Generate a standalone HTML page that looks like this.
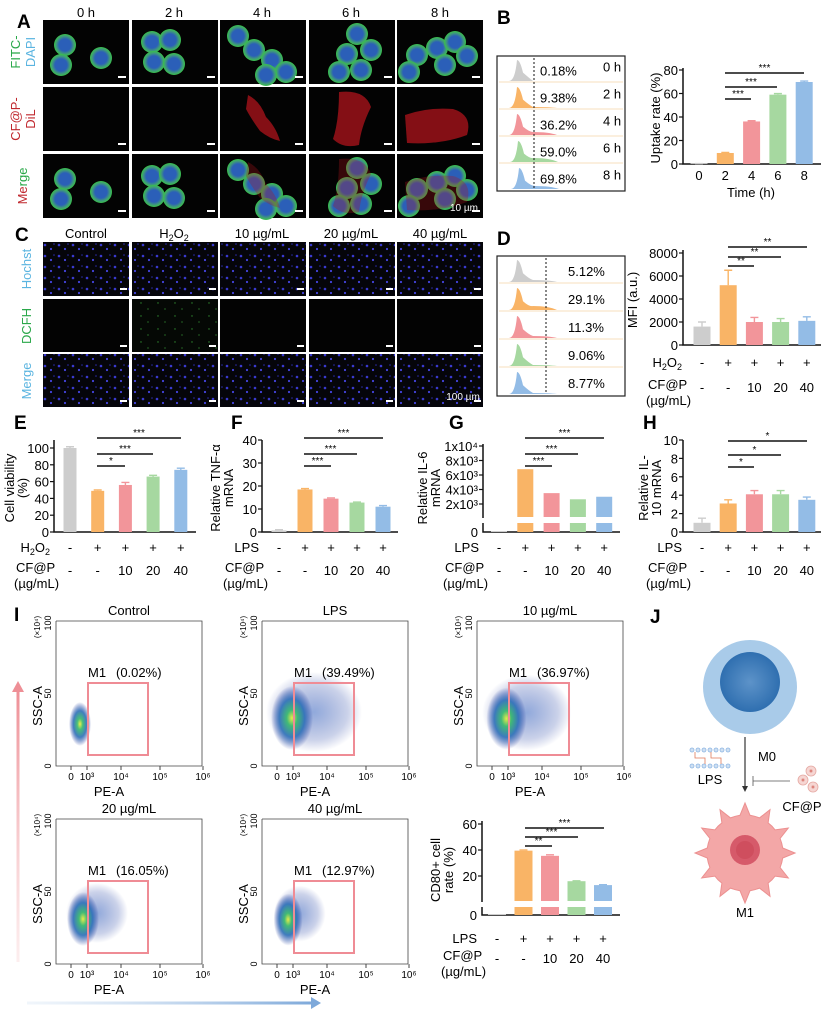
<!DOCTYPE html>
<html><head><meta charset="utf-8"><style>
body{margin:0;background:#fff}
svg{display:block;font-family:"Liberation Sans",Arial,sans-serif}
</style></head><body>
<svg id="fig" width="825" height="1013" viewBox="0 0 825 1013" xmlns="http://www.w3.org/2000/svg">
<defs>
<pattern id="nuc" width="14" height="11" patternUnits="userSpaceOnUse">
<rect width="14" height="11" fill="#05050a"/>
<circle cx="3" cy="3" r="1.3" fill="#3a3ad0"/><circle cx="9" cy="7" r="1.1" fill="#4444e0"/><circle cx="12" cy="2" r="0.8" fill="#2a2aa8"/>
</pattern>
<pattern id="ros" width="17" height="13" patternUnits="userSpaceOnUse">
<rect width="17" height="13" fill="#050805"/><circle cx="5" cy="4" r="0.7" fill="#2f8a2f"/><circle cx="12" cy="10" r="0.6" fill="#3aa03a"/>
</pattern>
<radialGradient id="cellg"><stop offset="0.55" stop-color="#2b5fb8"/><stop offset="0.8" stop-color="#3f9a7a"/><stop offset="1" stop-color="#39c24a"/></radialGradient>
<radialGradient id="blob"><stop offset="0" stop-color="#e9f03a"/><stop offset="0.25" stop-color="#34b86a"/><stop offset="0.6" stop-color="#2c6fb8"/><stop offset="1" stop-color="#2a3fa0" stop-opacity="0"/></radialGradient>
<radialGradient id="blob2"><stop offset="0" stop-color="#3a66c0" stop-opacity="0.8"/><stop offset="0.7" stop-color="#2a48a8" stop-opacity="0.35"/><stop offset="1" stop-color="#2a3fa0" stop-opacity="0"/></radialGradient>
<radialGradient id="m0"><stop offset="0" stop-color="#5d93c9"/><stop offset="1" stop-color="#2f6fb0"/></radialGradient>
<linearGradient id="varr" gradientUnits="userSpaceOnUse" x1="0" y1="962" x2="0" y2="690"><stop offset="0" stop-color="#f7c6c8" stop-opacity="0.3"/><stop offset="1" stop-color="#ee8f96"/></linearGradient>
<linearGradient id="harr" gradientUnits="userSpaceOnUse" x1="27" y1="0" x2="312" y2="0"><stop offset="0" stop-color="#cfe0f2" stop-opacity="0.3"/><stop offset="1" stop-color="#7ea9da"/></linearGradient>
</defs>

<g font-weight="bold" font-size="19">
<text x="17" y="28">A</text>
<text x="497" y="24">B</text>
<text x="15" y="241">C</text>
<text x="497" y="245">D</text>
<text x="14" y="429">E</text>
<text x="231" y="429">F</text>
<text x="449" y="429">G</text>
<text x="643" y="429">H</text>
<text x="14" y="621">I</text>
<text x="650" y="623">J</text>
</g>

<g font-size="13" text-anchor="middle">
<text x="86" y="17">0 h</text>
<text x="174" y="17">2 h</text>
<text x="262" y="17">4 h</text>
<text x="351" y="17">6 h</text>
<text x="440" y="17">8 h</text>
<text transform="translate(20,52) rotate(-90)" fill="#2aa84a">FITC-</text>
<text transform="translate(35,52) rotate(-90)" fill="#5ab4e0">DAPI</text>
<text transform="translate(20,119) rotate(-90)" fill="#c0282e">CF@P-</text>
<text transform="translate(35,119) rotate(-90)" fill="#c0282e">DiL</text>
<text transform="translate(27,186) rotate(-90)"><tspan fill="#c0282e">Me</tspan><tspan fill="#2aa84a">rge</tspan></text>
<g id="aimgs"></g>
<text x="464" y="211" font-size="10" fill="#fff">10 µm</text>
</g>

<g font-size="13" text-anchor="middle">
<text x="86" y="238">Control</text>
<text x="174" y="238">H<tspan font-size="9" dy="3">2</tspan><tspan dy="-3">O</tspan><tspan font-size="9" dy="3">2</tspan></text>
<text x="262" y="238">10 µg/mL</text>
<text x="351" y="238">20 µg/mL</text>
<text x="440" y="238">40 µg/mL</text>
<text transform="translate(31,269) rotate(-90)" fill="#5ab4e0">Hochst</text>
<text transform="translate(31,326) rotate(-90)" fill="#2aa84a">DCFH</text>
<text transform="translate(31,381) rotate(-90)" fill="#5ab4e0">Merge</text>
<g id="cimgs"></g>
<text x="463" y="400" font-size="10" fill="#fff">100 µm</text>
</g>

<g font-size="13">
<rect x="497" y="56" width="128" height="135" fill="none" stroke="#222" stroke-width="1.2"/>
<g id="histB"></g>
</g>
<g font-size="13">
<rect x="497" y="256" width="128" height="140" fill="none" stroke="#222" stroke-width="1.2"/>
<g id="histD"></g>
</g>

<g id="charts" font-size="13"></g>

<g id="flow" font-size="12"></g>
<path d="M18 962 L18 690" stroke="url(#varr)" stroke-width="3"/>
<path d="M12 692 L18 681 L24 692 Z" fill="#ee8f96"/>
<path d="M27 1003 L312 1003" stroke="url(#harr)" stroke-width="3"/>
<path d="M311 997 L321 1003 L311 1009 Z" fill="#7ea9da"/>

<g font-size="13" text-anchor="middle">
<circle cx="750" cy="687" r="47" fill="#a9cbe9"/>
<circle cx="750" cy="682" r="30" fill="url(#m0)"/>
<path d="M745 737 L745 790" stroke="#333" stroke-width="1.2"/>
<path d="M742 786 L745 792 L748 786 Z" fill="#333"/>
<text x="767" y="761">M0</text>
<g stroke="#8fb7e4" fill="#cfe0f2" stroke-width="0.8">
<circle cx="692" cy="750" r="2"/><circle cx="698" cy="750" r="2"/><circle cx="704" cy="750" r="2"/><circle cx="710" cy="750" r="2"/><circle cx="716" cy="750" r="2"/><circle cx="722" cy="750" r="2"/><circle cx="728" cy="750" r="2"/>
<circle cx="692" cy="766" r="2"/><circle cx="698" cy="766" r="2"/><circle cx="704" cy="766" r="2"/><circle cx="710" cy="766" r="2"/><circle cx="716" cy="766" r="2"/><circle cx="722" cy="766" r="2"/><circle cx="728" cy="766" r="2"/>
<path d="M695 752 V758 H705 V764 M711 752 V758 H721 V764" stroke="#e07a5a" fill="none"/>
</g>
<text x="710" y="784">LPS</text>
<path d="M790 781 L753 781 M753 776 L753 786" stroke="#555" stroke-width="0.8" fill="none"/>
<g fill="#f6d6d3" stroke="#e5a9a3" stroke-width="0.8">
<circle cx="811" cy="771" r="5"/><circle cx="803" cy="780" r="5"/><circle cx="813" cy="787" r="5"/>
<circle cx="811" cy="771" r="1.3" fill="#d86a60"/><circle cx="803" cy="780" r="1.3" fill="#d86a60"/><circle cx="813" cy="787" r="1.3" fill="#d86a60"/>
</g>
<text x="802" y="811">CF@P</text>
<g>
<path id="m1path" fill="#f3a7a7" stroke="#ec9090" stroke-width="1"/>
<circle cx="745" cy="850" r="15" fill="#d65a6a"/>
<circle cx="745" cy="850" r="9" fill="#c94657" opacity="0.6"/>
</g>
<text x="745" y="917">M1</text>
</g>
</svg>

<script>
// ---------- data ----------
const uptakeCats = ['0','2','4','6','8'];
const uptakeVals = [0.18, 9.38, 36.2, 59.0, 69.8];
const uptakeErr = [0.2, 0.5, 0.6, 0.9, 0.8];
const uptakePct = ['0.18%','9.38%','36.2%','59.0%','69.8%'];
const uptakeTimes = ['0 h','2 h','4 h','6 h','8 h'];
const rosPct = ['5.12%','29.1%','11.3%','9.06%','8.77%'];
const mfiVals = [1600, 5200, 2000, 2000, 2100];
const mfiErr = [400, 1300, 400, 300, 350];
const viabVals = [100, 49, 56, 66, 74];
const viabErr = [1.5, 1, 3, 1.5, 2];
const tnfVals = [0.7, 18.5, 14.5, 12.8, 11.0];
const tnfErr = [0.3, 0.4, 0.3, 0.2, 0.5];
const il6Vals = [40, 6800, 3500, 2650, 3000];
const il10Vals = [1.0, 3.1, 4.1, 4.1, 3.5];
const il10Err = [0.5, 0.4, 0.4, 0.4, 0.3];
const cd80Vals = [0.5, 39.5, 35.5, 16.0, 13.0];
const cd80Err = [0.3, 0.5, 0.8, 0.3, 0.3];
const flowTitles = ['Control','LPS','10 µg/mL','20 µg/mL','40 µg/mL'];
const flowPct = ['(0.02%)','(39.49%)','(36.97%)','(16.05%)','(12.97%)'];
const cfpDoses = ['-','-','10','20','40'];
const plusMinus = ['-','+','+','+','+'];

const COLORS = ['#cdcdcd','#f9b466','#f2959a','#a6d8a0','#93bce6'];
const NS = 'http://www.w3.org/2000/svg';
function mk(tag, attrs, parent){ const e=document.createElementNS(NS,tag); for(const k in attrs) e.setAttribute(k,attrs[k]); parent.appendChild(e); return e; }
const svgRoot = document.getElementById('charts');

// ---------- microscopy images ----------
const colX = [43,132,220,309,397];
const imgW = 86;
const aimgs = document.getElementById('aimgs');
const aRows = [20,87,154];
const cellSets = [
 [[22,25],[18,45],[58,38]],
 [[20,22],[38,20],[22,42],[42,44]],
 [[18,16],[34,30],[52,40],[66,52],[46,55]],
 [[48,14],[62,30],[38,34],[30,52],[52,50]],
 [[20,35],[40,28],[58,22],[48,45],[70,36],[12,52]]
];
const redSets = [null,null,'M28 8 Q40 14 46 30 Q56 40 60 54 Q50 52 40 44 Q30 30 26 22 Z','M30 5 Q56 2 62 20 Q52 40 50 58 Q34 62 24 52 Q30 34 30 5 Z','M8 28 Q30 20 56 22 Q76 28 70 48 Q44 58 10 56 Z'];
for(let r=0;r<3;r++){
  for(let c=0;c<5;c++){
    const x=colX[c], y=aRows[r];
    const bg=mk('rect',{x:x,y:y,width:imgW,height:64,fill:'#030303'},aimgs);
    
    
    if(r!==1){
      cellSets[c].forEach(p=>{ const ci=mk('circle',{cx:x+p[0],cy:y+p[1],r:11,fill:'url(#cellg)'},aimgs);
        
         });
    }
    if(redSets[c] && r>0){
      const rp=mk('path',{d:redSets[c],transform:`translate(${x},${y})`,fill:'#b0141c',opacity:r===1?0.75:0.3},aimgs);
      
      
    }
    const sb=mk('rect',{x:x+75,y:y+56,width:8,height:2,fill:'#fff'},aimgs);
    
    
  }
}
const cimgs=document.getElementById('cimgs');
const cRows=[242,299,354];
for(let r=0;r<3;r++) for(let c=0;c<5;c++){
  const im=mk('rect',{x:colX[c],y:cRows[r],width:imgW,height:r===0?54:53,fill:r===1?(c===1?'url(#ros)':'#030303'):'url(#nuc)'},cimgs);
  
  
  const sb=mk('rect',{x:colX[c]+77,y:cRows[r]+46,width:7,height:2,fill:'#fff'},cimgs);
  
  
}

// ---------- histograms ----------
function hist(gid, top, rowH, dashX, pcts, times, shiftArr, tailArr){
  const g=document.getElementById(gid);
  for(let i=0;i<5;i++){
    const by=top+(i+1)*rowH-2, px=519+shiftArr[i], h=rowH-6;
    if(i<4){ const bl=mk('line',{x1:499,x2:623,y1:by+1,y2:by+1,stroke:'#f4d4a8','stroke-width':0.8},g);
      
       }
    const t=tailArr[i];
    const p=mk('path',{d:`M${px-10} ${by} Q${px-4} ${by} ${px-2} ${by-h} Q${px+1} ${by-h} ${px+4} ${by-h*0.4} Q${px+10} ${by-h*0.15} ${px+14} ${by-t} Q${px+30} ${by-t} ${px+38} ${by} Z`,fill:COLORS[i]},g);
    
    
    const tx=mk('text',{x:gid==='histB'?540:568,y:top+i*rowH+rowH/2+6},g); tx.textContent=pcts[i];
    
    
    if(times){ const tt=mk('text',{x:603,y:top+i*rowH+rowH/2+2},g); tt.textContent=times[i];
      
       }
  }
  const d=mk('line',{x1:dashX,x2:dashX,y1:top+2,y2:top+5*rowH-2,stroke:'#111','stroke-dasharray':'2,2'},g);
  
  
}
hist('histB',56,27,534,uptakePct,uptakeTimes,[0,0,0,1,2],[0,1,3,4,3]);
hist('histD',256,28,546,rosPct,null,[0,0,0,0,0],[2,4,2,1,1]);

// ---------- bar chart helpers ----------
function txt(x,y,s,attrs,name){ const t=mk('text',Object.assign({x:x,y:y},attrs||{}),svgRoot); t.textContent=s;
  
   return t; }
function axes(ax, y0, yTop, xEnd){
  const a=mk('path',{d:`M${ax} ${yTop} L${ax} ${y0} L${xEnd} ${y0}`,fill:'none',stroke:'#111','stroke-width':1.5},svgRoot);
  
  
}
function yticks(ax, vals, labels, yFn){
  vals.forEach((v,i)=>{ const y=yFn(v);
    const l=mk('line',{x1:ax-4,x2:ax,y1:y,y2:y,stroke:'#111','stroke-width':1.2},svgRoot);
    
    
    txt(ax-5,y+5,labels[i],{'text-anchor':'end'},'y-tick-label'); });
}
function bars(vals, errs, x0, step, w, yFn, baseY){
  vals.forEach((v,i)=>{ const cx=x0+i*step; let yt=yFn(v);
    const b=mk('rect',{x:cx-w/2,y:Math.min(yt,baseY-0.8),width:w,height:Math.max(baseY-yt,0.8),fill:COLORS[i]},svgRoot);
    
    
    if(errs){ const ye=yFn(v+errs[i]);
      const e=mk('path',{d:`M${cx} ${yt} L${cx} ${ye} M${cx-4} ${ye} L${cx+4} ${ye}`,stroke:COLORS[i],'stroke-width':1.4,fill:'none'},svgRoot);
      
       }
  });
}
function sig(x1,x2,y,s){
  const l=mk('line',{x1:x1,x2:x2,y1:y,y2:y,stroke:'#111','stroke-width':1.5},svgRoot);
  
  
  txt((x1+x2)/2,y-2,s,{'text-anchor':'middle','font-size':10},'significance-stars');
}
function condRows(x0,step,y1,y2,label1){
  if(label1==='H2O2'){ const t=txt(x0-20,y1+5,'',{'text-anchor':'end'},'h2o2-label');
    t.innerHTML='H<tspan font-size="9" dy="3">2</tspan><tspan dy="-3">O</tspan><tspan font-size="9" dy="3">2</tspan>'; }
  else txt(x0-20,y1+5,label1,{'text-anchor':'end'},'lps-row-label');
  plusMinus.forEach((s,i)=>txt(x0+i*step,y1+5,s,{'text-anchor':'middle'},'treatment-sign'));
  txt(x0-54,y2+2,'CF@P',{'text-anchor':'start'},'cfp-row-label');
  txt(x0-56,y2+18,'(µg/mL)',{'text-anchor':'start'},'cfp-unit-label');
  cfpDoses.forEach((s,i)=>txt(x0+i*step,y2+5,s,{'text-anchor':'middle'},'dose-label'));
}
function ylab(x,y,lines){ lines.forEach((s,i)=>txt(x+i*13,y,s,{'text-anchor':'middle',transform:`rotate(-90 ${x+i*13} ${y})`},'y-axis-title')); }

// Panel B chart
const yB=v=>164-v*94/80;
axes(683,164,68,821);
yticks(683,[0,20,40,60,80],['0','20','40','60','80'],yB);
bars(uptakeVals,uptakeErr,699,26.3,17,yB,164);
uptakeCats.forEach((c,i)=>txt(699+i*26.3,180,c,{'text-anchor':'middle'},'x-tick-label'));
txt(751,197,'Time (h)',{'text-anchor':'middle'},'x-axis-title');
ylab(660,118,['Uptake rate (%)']);
sig(725,804,73,'***'); sig(725,777,87,'***'); sig(725,751,99,'***');

// Panel D chart
const yD=v=>345-v*92/8000;
axes(683,345,250,821);
yticks(683,[0,2000,4000,6000,8000],['0','2000','4000','6000','8000'],yD);
bars(mfiVals,mfiErr,702,26.2,17,yD,345);
ylab(637,300,['MFI (a.u.)']);
sig(728,807,247,'**'); sig(728,781,257,'**'); sig(728,754,266,'**');
condRows(702,26.2,362,387,'H2O2');

// Panel E
const yE=v=>532-v*0.84;
axes(54,532,440,196);
yticks(54,[0,20,40,60,80,100],['0','20','40','60','80','100'],yE);
bars(viabVals,viabErr,70,27.7,13,yE,532);
ylab(14,488,['Cell viability','(%)']);
sig(97,181,438,'***'); sig(97,153,454,'***'); sig(97,125,466,'*');
condRows(70,27.7,547,570,'H2O2');

// Panel F
const yF=v=>532-v*2.3;
axes(262,532,440,398);
yticks(262,[0,10,20,30,40],['0','10','20','30','40'],yF);
bars(tnfVals,tnfErr,279,26,15,yF,532);
ylab(220,488,['Relative TNF-α','mRNA']);
sig(304,383,438,'***'); sig(304,357,454,'***'); sig(304,331,466,'***');
condRows(279,26,547,570,'LPS');

// Panel G (broken axis)
const yG=v=>504-(v-2000)*0.00725;
axes(483,532,444,620);
const gw=mk('rect',{x:478,y:518,width:10,height:5,fill:'#fff'},svgRoot);


yticks(483,[2000,4000,6000,8000],['2x10³','4x10³','6x10³','8x10³'],yG);
yticks(483,[10000],['1x10⁴'],yG);
txt(478,537,'0',{'text-anchor':'end'},'y-tick-label');
il6Vals.forEach((v,i)=>{ const cx=499+i*26.3;
  if(v>2000){ const b=mk('rect',{x:cx-8,y:yG(v),width:16,height:517-yG(v),fill:COLORS[i]},svgRoot);
    
    
    const b2=mk('rect',{x:cx-8,y:523,width:16,height:9,fill:COLORS[i]},svgRoot);
    
     }
  else { const b=mk('rect',{x:cx-8,y:532-Math.max(v/1000*9,1),width:16,height:Math.max(v/1000*9,1),fill:COLORS[i]},svgRoot);
    
     }
});
ylab(427,488,['Relative IL-6','mRNA']);
sig(525,604,438,'***'); sig(525,578,454,'***'); sig(525,552,466,'***');
condRows(499,26.3,547,570,'LPS');

// Panel H
const yH=v=>532-v*9.2;
axes(683,532,440,821);
yticks(683,[0,2,4,6,8,10],['0','2','4','6','8','10'],yH);
bars(il10Vals,il10Err,702,26.2,17,yH,532);
ylab(648,488,['Relative IL-','10 mRNA']);
sig(728,807,441,'*'); sig(728,781,455,'*'); sig(728,754,467,'*');
condRows(702,26.2,547,570,'LPS');

// Panel I CD80 chart (broken)
const yC=v=>876-(v-20)*1.3;
axes(482,915,821,620);
const cw=mk('rect',{x:477,y:902,width:10,height:5,fill:'#fff'},svgRoot);


yticks(482,[20,40,60],['20','40','60'],yC);
txt(477,920,'0',{'text-anchor':'end'},'y-tick-label');
cd80Vals.forEach((v,i)=>{ const cx=497+i*26.5;
  if(v>5){ const b=mk('rect',{x:cx-9,y:yC(v),width:18,height:901-yC(v),fill:COLORS[i]},svgRoot);
    
    
    const b2=mk('rect',{x:cx-9,y:907,width:18,height:8,fill:COLORS[i]},svgRoot);
    
    
    const e=mk('line',{x1:cx-4,x2:cx+4,y1:yC(v+cd80Err[i]),y2:yC(v+cd80Err[i]),stroke:COLORS[i],'stroke-width':1.4},svgRoot);
    
     }
  else { const b=mk('rect',{x:cx-9,y:914,width:18,height:1,fill:COLORS[i]},svgRoot);
    
     }
});
ylab(440,870,['CD80+ cell','rate (%)']);
sig(525,604,828,'***'); sig(525,578,837,'***'); sig(525,552,846,'**');
condRows(497,26.5,938,958,'LPS');

// ---------- flow plots ----------
const flow=document.getElementById('flow');
const plots=[[56,621],[262,621],[477,621],[56,819],[262,819]];
const spread=[[0,0],[1,1],[0.9,0.9],[0.5,0.5],[0.35,0.4]];
const xt=[15,31,65,104,147], xtl=['0','10³','10⁴','10⁵','10⁶'];
plots.forEach((p,k)=>{
  const [L,T]=p, W=146, H=145, B=T+H;
  function ft(x,y,s,a,n){ const t=mk('text',Object.assign({x:x,y:y},a||{}),flow); t.textContent=s;
    
     return t; }
  const fr=mk('path',{d:`M${L} ${T} L${L+W} ${T} L${L+W} ${B} M${L} ${T} L${L} ${B} L${L+W} ${B}`,fill:'none',stroke:'#444','stroke-width':0.8},flow);
  
  
  const [sx,sy]=spread[k];
  if(sx>0){ const e0=mk('ellipse',{cx:L+30+sx*22,cy:B-48-sy*6,rx:14+sx*34,ry:20+sy*20,fill:'url(#blob2)',opacity:0.7},flow);
    
     }
  const e1=mk('ellipse',{cx:L+24+sx*6,cy:B-42-sy*6,rx:11+sx*10,ry:22+sy*10,fill:'url(#blob)',opacity:0.9},flow);
  
  
  const g=mk('rect',{x:L+32,y:T+62,width:60,height:72,fill:'none',stroke:'#ef8c95','stroke-width':2},flow);
  
  
  ft(L+W/2,T-6,flowTitles[k],{'text-anchor':'middle','font-size':13},'flow-title');
  ft(L+32,T+56,'M1',{'font-size':13},'gate-label');
  ft(L+60,T+56,flowPct[k],{'font-size':13},'gate-percent');
  xt.forEach((x,i)=>{ ft(L+x,B+14,xtl[i],{'text-anchor':'middle','font-size':10},'x-tick-label');
    const l=mk('line',{x1:L+x,x2:L+x,y1:B,y2:B+4,stroke:'#444'},flow);
    
     });
  ft(L+W/2-20,B+30,'PE-A',{'text-anchor':'middle','font-size':13},'x-axis-title');
  ft(0,0,'SSC-A',{'text-anchor':'middle','font-size':13,transform:`translate(${L-14},${T+85}) rotate(-90)`},'y-axis-title');
  [['0',B],['50',T+H/2],['100',T+2]].forEach(a=>ft(0,0,a[0],{'text-anchor':'middle','font-size':9,transform:`translate(${L-5},${a[1]}) rotate(-90)`},'y-tick-label'));
  ft(0,0,'(×10⁴)',{'text-anchor':'middle','font-size':8,transform:`translate(${L-16},${T+6}) rotate(-90)`},'y-unit');
});

// M1 cell outline with spikes
(function(){
  const cx=745, cy=853; let d='';
  for(let i=0;i<=48;i++){ const a=i/48*Math.PI*2; const r=(i%4===0)?50:38; d+=(i?'L':'M')+(cx+r*Math.cos(a)).toFixed(1)+' '+(cy+r*Math.sin(a)).toFixed(1)+' '; }
  document.getElementById('m1path').setAttribute('d',d+'Z');
})();
</script>
</body></html>
